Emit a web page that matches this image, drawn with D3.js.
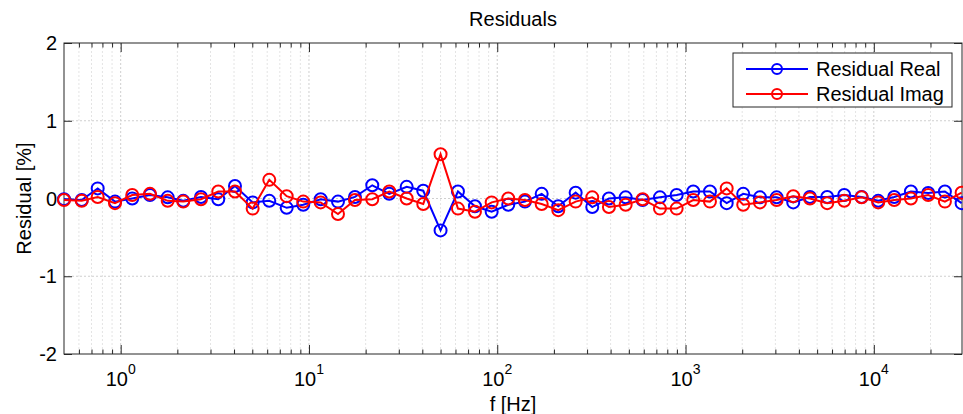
<!DOCTYPE html>
<html>
<head>
<meta charset="utf-8">
<script src="https://cdn.jsdelivr.net/npm/d3@7"></script>
<style>
	body{margin:0;background:#fff;}
	text{font-family:"Liberation Sans", Arial, sans-serif;fill:#000;}
</style>
</head>
<body>
<svg id="chart" width="963" height="414"></svg>
<script>
// frequencies [Hz] of the measured points
const freq = [0.5, 0.621, 0.755, 0.933, 1.152, 1.431, 1.777, 2.15, 2.67, 3.299,
	4.046, 5.023, 6.155, 7.614, 9.327, 11.54, 14.26, 17.55, 21.69, 26.7,
	33.03, 40.46, 50, 61.84, 76.13, 93.4, 114.4, 140.3, 172.2, 210.9,
	260.9, 319.6, 391.9, 480.8, 591.7, 731.4, 897, 1099, 1348, 1654,
	2025, 2484, 3047, 3733, 4578, 5655, 6964, 8614, 10553, 12838,
	15740, 19449, 23855, 29260];

const residualReal = [-0.01, -0.02, 0.13, -0.04, 0.0, 0.045, 0.015, -0.03, 0.02, -0.01,
	0.16, -0.05, -0.03, -0.12, -0.08, -0.01, -0.04, 0.02, 0.17, 0.06,
	0.15, 0.10, -0.41, 0.09, -0.10, -0.17, -0.08, -0.04, 0.06, -0.10,
	0.075, -0.11, 0.0, 0.015, -0.02, 0.015, 0.045, 0.09, 0.09, -0.06,
	0.06, 0.015, 0.015, -0.05, 0.02, 0.02, 0.045, 0.02, -0.03, 0.02,
	0.09, 0.07, 0.09, -0.06];

const residualImag = [-0.02, -0.03, 0.02, -0.06, 0.045, 0.06, -0.03, -0.04, -0.01, 0.09,
	0.09, -0.13, 0.24, 0.03, -0.04, -0.05, -0.20, -0.02, -0.01, 0.09,
	0.0, -0.07, 0.57, -0.13, -0.17, -0.05, 0.0, -0.02, -0.07, -0.15,
	-0.04, 0.015, -0.11, -0.08, -0.01, -0.13, -0.13, -0.02, -0.04, 0.13,
	-0.08, -0.05, -0.02, 0.03, 0.0, -0.06, -0.03, 0.015, -0.05, -0.02,
	0.0, 0.045, -0.04, 0.075];

const yTicks = [-2, -1, 0, 1, 2];
const xDecades = [1, 10, 100, 1000, 10000];
const seriesNames = ["Residual Real", "Residual Imag"];
const seriesColors = ["#0000ff", "#ff0000"];

const svg = d3.select("#chart");
const plotLeft = 64, plotRight = 962, plotTop = 43, plotBottom = 354;

const x = d3.scaleLog()
	.domain([0.5, 29400])
	.range([plotLeft, plotRight]);

const y = d3.scaleLinear()
	.domain([-2, 2])
	.range([plotBottom, plotTop]);

const isMajor = v => Math.abs(Math.log10(v) - Math.round(Math.log10(v))) < 1e-9;
const xAll = x.ticks().filter(v => v > x.domain()[0] * 1.0001 && v < x.domain()[1]);
const xMinor = xAll.filter(v => !isMajor(v));

// grid
let grid = svg.append("g");
grid.selectAll("line.v")
	.data(xAll)
	.join("line")
	.attr("class", "v")
	.attr("x1", d => x(d)).attr("x2", d => x(d))
	.attr("y1", plotTop).attr("y2", plotBottom)
	.attr("stroke", d => isMajor(d) ? "#cfcfcf" : "#e4e4e4")
	.attr("stroke-width", 1)
	.attr("stroke-dasharray", "2,2");
grid.selectAll("line.h")
	.data(yTicks.filter(d => d > -2 && d < 2))
	.join("line")
	.attr("class", "h")
	.attr("x1", plotLeft).attr("x2", plotRight)
	.attr("y1", d => y(d)).attr("y2", d => y(d))
	.attr("stroke", "#cfcfcf")
	.attr("stroke-width", 1)
	.attr("stroke-dasharray", "2,2");

// ticks (pointing inwards, on all four sides)
function addAxis(axis, tx, ty){
	let g = svg.append("g")
		.attr("transform", "translate(" + tx + "," + ty + ")")
		.attr("color", "#262626")
		.call(axis);
	g.select(".domain").remove();
	g.selectAll("text").remove();
}
addAxis(d3.axisBottom(x).tickValues(xMinor).tickSizeInner(-4.5).tickSizeOuter(0), 0, plotBottom);
addAxis(d3.axisBottom(x).tickValues(xDecades).tickSizeInner(-9).tickSizeOuter(0), 0, plotBottom);
addAxis(d3.axisTop(x).tickValues(xMinor).tickSizeInner(-4.5).tickSizeOuter(0), 0, plotTop);
addAxis(d3.axisTop(x).tickValues(xDecades).tickSizeInner(-9).tickSizeOuter(0), 0, plotTop);
addAxis(d3.axisLeft(y).tickValues(yTicks).tickSizeInner(-8).tickSizeOuter(0), plotLeft, 0);
addAxis(d3.axisRight(y).tickValues(yTicks).tickSizeInner(-8).tickSizeOuter(0), plotRight, 0);

svg.append("rect")
	.attr("x", plotLeft).attr("y", plotTop)
	.attr("width", plotRight - plotLeft).attr("height", plotBottom - plotTop)
	.attr("fill", "none")
	.attr("stroke", "#262626")
	.attr("stroke-width", 1);

// tick labels
svg.append("g")
	.selectAll("text")
	.data(yTicks)
	.join("text")
	.attr("x", plotLeft - 7)
	.attr("y", d => y(d))
	.attr("dy", "0.36em")
	.attr("text-anchor", "end")
	.attr("font-size", 20)
	.text(d => d);

svg.append("g")
	.selectAll("text")
	.data(xDecades)
	.join("text")
	.attr("x", d => x(d))
	.attr("y", 386)
	.attr("text-anchor", "middle")
	.attr("font-size", 20)
	.each(function(d){
		let t = d3.select(this);
		t.append("tspan").text("10");
		t.append("tspan").attr("dy", -12.5).attr("font-size", 14).text(Math.round(Math.log10(d)));
	});

// titles
svg.append("text")
	.attr("x", (plotLeft + plotRight) / 2).attr("y", 26)
	.attr("text-anchor", "middle")
	.attr("font-size", 20)
	.text("Residuals");
svg.append("text")
	.attr("x", (plotLeft + plotRight) / 2).attr("y", 411)
	.attr("text-anchor", "middle")
	.attr("font-size", 20)
	.text("f [Hz]");
svg.append("text")
	.attr("transform", "translate(31," + y(0) + ") rotate(-90)")
	.attr("text-anchor", "middle")
	.attr("font-size", 20)
	.text("Residual [%]");

// series
const series = [residualReal, residualImag];
const lineGenerator = d3.line()
	.x((d, i) => x(freq[i]))
	.y(d => y(d));

series.forEach((vals, s) => {
	let g = svg.append("g");
	g.append("path")
		.attr("d", lineGenerator(vals))
		.attr("fill", "none")
		.attr("stroke", seriesColors[s])
		.attr("stroke-width", 2);
	g.selectAll("circle")
		.data(vals)
		.join("circle")
		.attr("cx", (d, i) => x(freq[i]))
		.attr("cy", d => y(d))
		.attr("r", 6)
		.attr("fill", "none")
		.attr("stroke", seriesColors[s])
		.attr("stroke-width", 2);
});

// legend
let legend = svg.append("g");
legend.append("rect")
	.attr("x", 733).attr("y", 53)
	.attr("width", 219).attr("height", 54)
	.attr("fill", "#fff")
	.attr("stroke", "#262626")
	.attr("stroke-width", 1);
let rows = legend.selectAll("g")
	.data(seriesNames)
	.join("g")
	.attr("transform", (d, i) => "translate(0," + (69 + i * 25) + ")");
rows.append("line")
	.attr("x1", 746).attr("x2", 808)
	.attr("stroke", (d, i) => seriesColors[i])
	.attr("stroke-width", 2);
rows.append("circle")
	.attr("cx", 777).attr("r", 5)
	.attr("fill", "none")
	.attr("stroke", (d, i) => seriesColors[i])
	.attr("stroke-width", 2);
rows.append("text")
	.attr("x", 816)
	.attr("dy", "0.36em")
	.attr("font-size", 20)
	.text(d => d);
</script>
</body>
</html>
